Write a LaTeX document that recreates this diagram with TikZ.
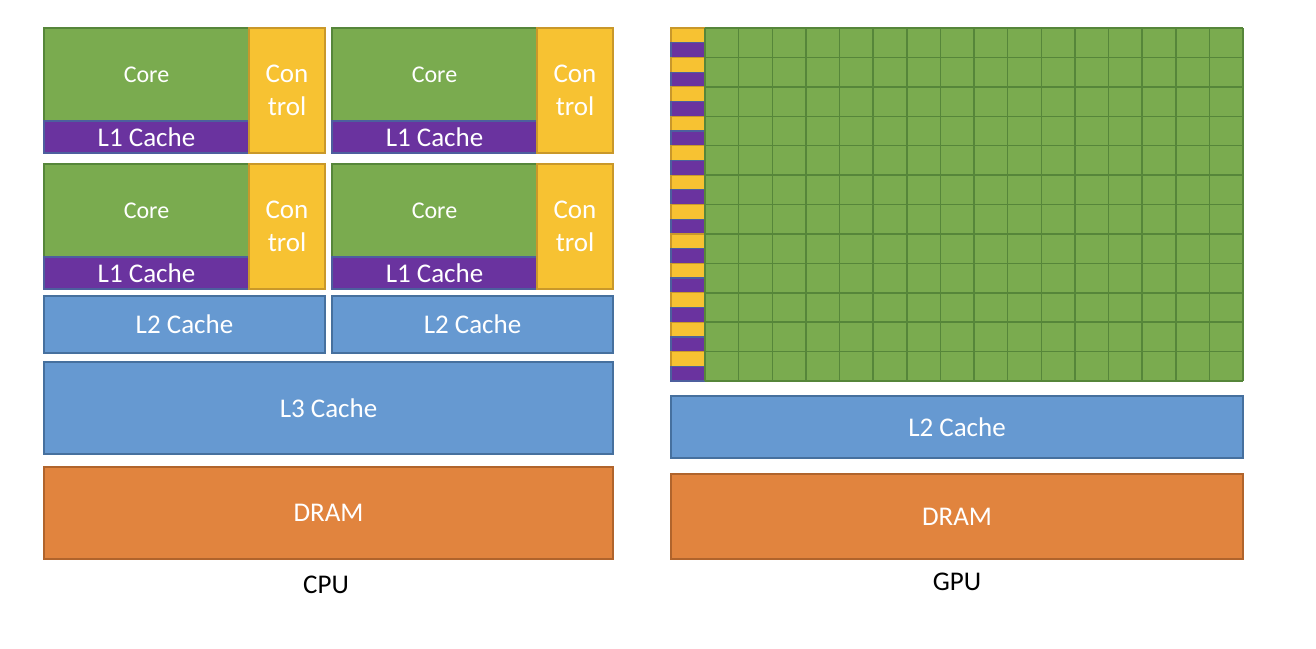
\documentclass[tikz,border=0pt]{standalone}
\usepackage{fontspec}
\setmainfont{Carlito}
\usetikzlibrary{positioning}
\definecolor{gr}{HTML}{7AAB4F}
\definecolor{grline}{HTML}{56863A}
\definecolor{yl}{HTML}{F7C232}
\definecolor{ylline}{HTML}{C9982A}
\definecolor{pu}{HTML}{6A339F}
\definecolor{puline}{HTML}{4D5F9E}
\definecolor{bl}{HTML}{6699D1}
\definecolor{blline}{HTML}{46709E}
\definecolor{og}{HTML}{E1843E}
\definecolor{ogline}{HTML}{B0642C}
\tikzstyle{box} = [rectangle, line width=1.3pt, inner sep=0pt, outer sep=0pt, text=white, anchor=north west]
\tikzstyle{core} = [box, fill=gr, draw=grline, minimum width=205pt, minimum height=93pt, font=\fontsize{24}{27}\selectfont]
\tikzstyle{lone} = [box, fill=pu, draw=puline, minimum width=205pt, minimum height=32pt, font=\fontsize{27}{30}\selectfont]
\tikzstyle{ctrl} = [box, fill=yl, draw=ylline, minimum width=76pt, minimum height=125pt, align=center, font=\fontsize{27}{33}\selectfont]
\tikzstyle{cache} = [box, fill=bl, draw=blline, font=\fontsize{27}{30}\selectfont]
\tikzstyle{dram} = [box, fill=og, draw=ogline, font=\fontsize{27}{30}\selectfont]
\tikzstyle{label} = [text=black, font=\fontsize{27}{30}\selectfont]
\newcommand{\cpucore}[3]{%
	\node[core] (#1c) at (#2,#3) {Core};%
	\node[lone, below=0pt of #1c.south west, anchor=north west] (#1l) {L1 Cache};%
	\node[ctrl, right=0pt of #1c.north east, anchor=north west] (#1t) {Con\\trol};%
}

\begin{document}
\begin{tikzpicture}[x=1pt, y=-1pt]%
	\useasboundingbox (0,0) rectangle (1316,648);%
	% CPU
	\cpucore{a}{44}{28}%
	\cpucore{b}{332}{28}%
	\cpucore{c}{44}{164}%
	\cpucore{d}{332}{164}%
	\node[cache, minimum width=281pt, minimum height=57pt] (ltwoa) at (44,296) {L2 Cache};%
	\node[cache, minimum width=281pt, minimum height=57pt] (ltwob) at (332,296) {L2 Cache};%
	\node[cache, minimum width=569pt, minimum height=92pt, below=9pt of ltwoa.south west, anchor=north west] (lthree) {L3 Cache};%
	\node[dram, minimum width=569pt, minimum height=92pt, below=13pt of lthree.south west, anchor=north west] (cdram) {DRAM};%
	\node[label] (cpu) at (326,585) {CPU};%
	% GPU
	\foreach \r in {0,...,11} {%
		\path[fill=yl, draw=ylline, line width=1.2pt] (671,28+29.42*\r) rectangle (705,28+29.42*\r+14.71);%
		\path[fill=pu, draw=puline, line width=1.2pt] (671,28+29.42*\r+14.71) rectangle (705,28+29.42*\r+29.42);%
	}%
	\fill[gr] (705,28) rectangle (1243,381);%
	\foreach \c in {0,...,16} \draw[grline, line width=1.5pt] (705+33.625*\c,28) -- (705+33.625*\c,381);%
	\foreach \r in {0,...,12} \draw[grline, line width=1.5pt] (705,28+29.42*\r) -- (1243,28+29.42*\r);%
	\node[cache, minimum width=572pt, minimum height=62pt] (gltwo) at (671,396) {L2 Cache};%
	\node[dram, minimum width=572pt, minimum height=85pt, below=16pt of gltwo.south west, anchor=north west] (gdram) {DRAM};%
	\node[label] (gpu) at (957,582) {GPU};%
\end{tikzpicture}
\end{document}
